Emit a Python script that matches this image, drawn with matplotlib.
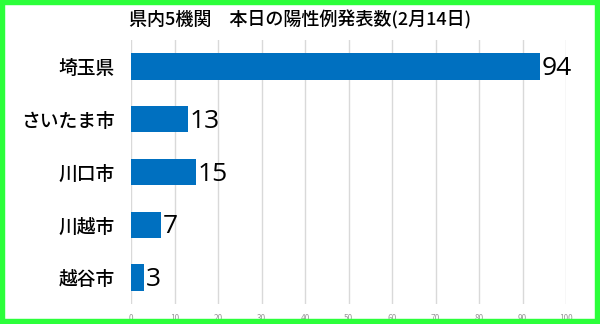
import matplotlib
matplotlib.use("Agg")
import matplotlib.pyplot as plt
from matplotlib.patches import Rectangle

plt.rcParams['font.family'] = ['Noto Sans CJK JP', 'DejaVu Sans']

categories = ["埼玉県", "さいたま市", "川口市", "川越市", "越谷市"]
values = [94, 13, 15, 7, 3]
xticks = [0, 10, 20, 30, 40, 50, 60, 70, 80, 90, 100]
title = "県内5機関　本日の陽性例発表数(2月14日)"

fig = plt.figure(figsize=(6, 3.24), dpi=100)
ax = fig.add_axes([131/600, 20/324, 435/600, 264/324])

ypos = list(range(len(categories)))
ax.barh(ypos, values, height=0.5, color="#0070C0", zorder=3)
for y, v in zip(ypos, values):
    ax.text(v + 0.4, y + 0.04, str(v), va="center", ha="left", fontsize=19,
            family=["Open Sans", "DejaVu Sans"], color="black",
            clip_on=False, zorder=4)

ax.set_xlim(0, 100)
ax.set_ylim(4.5, -0.5)
ax.set_xticks(xticks)
ax.set_xticklabels([str(t) for t in xticks], fontsize=6, color="#999999")
ax.set_yticks(ypos)
ax.set_yticklabels(categories, fontsize=13.5, color="black", fontweight="medium")
ax.tick_params(axis="x", length=0, pad=7)
ax.tick_params(axis="y", length=0, pad=11.5)
ax.grid(axis="x", color="#d9d9d9", linewidth=1, zorder=0)
for s in ax.spines.values():
    s.set_visible(False)

fig.text(0.5, 1 - 20/324, title, ha="center", va="center", fontsize=13,
         fontweight="medium", color="black")

fig.patches.append(Rectangle((0, 0), 1, 1, transform=fig.transFigure,
                             fill=False, edgecolor="#2BFF3A", linewidth=7.5))

fig.savefig("out.png", dpi=100)
